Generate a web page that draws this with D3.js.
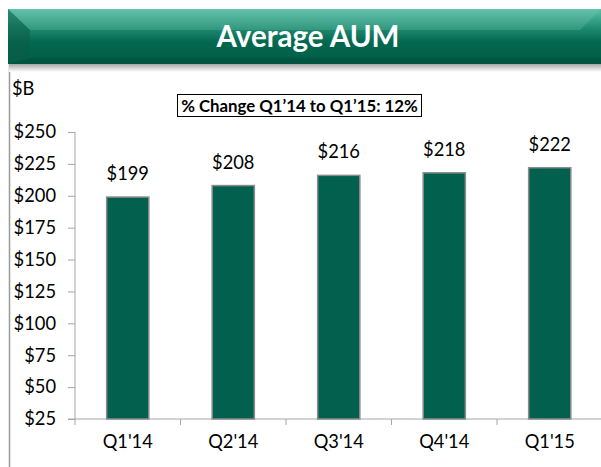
<!DOCTYPE html>
<html><head><meta charset="utf-8">
<script src="https://cdnjs.cloudflare.com/ajax/libs/d3/7.8.5/d3.min.js"></script>
<style>html,body{margin:0;padding:0;background:#fff;}svg{display:block;}</style>
</head><body>
<script>
const categories = ["Q1'14","Q2'14","Q3'14","Q4'14","Q1'15"];
const values = [199, 208, 216, 218, 222];
const valueLabels = ["$199","$208","$216","$218","$222"];
const yTicks = [25,50,75,100,125,150,175,200,225,250];
const title = "Average AUM";
const unitLabel = "$B";
const note = "% Change Q1’14 to Q1’15: 12%";

const W = 601, H = 467;
const font = "Lato, 'Open Sans', sans-serif";
const fs = 18.3;
const svg = d3.select("body").append("svg").attr("width", W).attr("height", H);
const defs = svg.append("defs");

const g1 = defs.append("linearGradient").attr("id","ban").attr("x1",0).attr("y1",0).attr("x2",0).attr("y2",1);
g1.append("stop").attr("offset","0%").attr("stop-color","#5cc0a8");
g1.append("stop").attr("offset","35%").attr("stop-color","#1f8a70");
g1.append("stop").attr("offset","60%").attr("stop-color","#03684f");
g1.append("stop").attr("offset","100%").attr("stop-color","#005c47");
const g2 = defs.append("linearGradient").attr("id","shad").attr("x1",0).attr("y1",0).attr("x2",0).attr("y2",1);
g2.append("stop").attr("offset","0%").attr("stop-color","#9a9a9a");
g2.append("stop").attr("offset","100%").attr("stop-color","#ffffff");

svg.append("line").attr("x1",9.5).attr("x2",9.5).attr("y1",62).attr("y2",H).attr("stroke","#9a9a9a").attr("stroke-width",1.5);
svg.append("rect").attr("x",9).attr("y",63).attr("width",W-9).attr("height",9).attr("fill","url(#shad)");
svg.append("rect").attr("x",8).attr("y",9).attr("width",W-8).attr("height",55).attr("fill","url(#ban)");
svg.append("path").attr("d","M8,9 L30,30 L30,58 L8,64 Z").attr("fill","#0b5c47").attr("opacity",0.55);
svg.append("path").attr("d","M8,9 L30,30 L580,30 L601,9 Z").attr("fill","#7ccbb8").attr("opacity",0.25);
svg.append("path").attr("d","M8,64 L30,58 L601,58 L601,64 Z").attr("fill","#004b39").attr("opacity",0.5);
svg.append("text").attr("x",308).attr("y",47).attr("text-anchor","middle")
  .attr("font-family",font).attr("font-weight","bold").attr("font-size",29.5).attr("fill","#fff").text(title);

svg.append("text").attr("x",12).attr("y",95).attr("font-family",font).attr("font-size",fs).attr("fill","#000").text(unitLabel);

svg.append("rect").attr("x",177.5).attr("y",94.5).attr("width",244).attr("height",22).attr("fill","#fff").attr("stroke","#000").attr("stroke-width",1);
svg.append("text").attr("x",299.5).attr("y",111.5).attr("text-anchor","middle").attr("font-family",font).attr("font-weight","bold").attr("font-size",16.8).attr("fill","#000").text(note);

const x = d3.scaleBand().domain(categories).range([75, 602.5]).padding(0);
const y = d3.scaleLinear().domain([25, 250]).range([419, 132]);

const ya = svg.append("g").attr("transform","translate(75,0)")
  .call(d3.axisLeft(y).tickValues(yTicks).tickSize(7).tickPadding(12).tickFormat(d => "$" + d));
ya.select(".domain").attr("stroke","#a6a6a6").attr("d","M0,132V419");
ya.selectAll(".tick line").attr("stroke","#a6a6a6");
ya.selectAll(".tick text").attr("font-family",font).attr("font-size",fs).attr("fill","#000");

const xa = svg.append("g").attr("transform","translate(0,419)")
  .call(d3.axisBottom(x).tickSize(0).tickPadding(13));
xa.select(".domain").attr("stroke","#a6a6a6").attr("d","M68,0H602");
xa.selectAll(".tick text").attr("font-family",font).attr("font-size",fs).attr("fill","#000").attr("dy","0.9em");
svg.append("g").selectAll("line").data(categories).join("line")
  .attr("x1", d => x(d)).attr("x2", d => x(d)).attr("y1",419).attr("y2",425).attr("stroke","#a6a6a6");

const bw = x.bandwidth()*0.4;
svg.append("g").selectAll("rect").data(values).join("rect")
  .attr("x",(d,i)=>x(categories[i]) + x.bandwidth()/2 - bw/2)
  .attr("y",d=>y(d)).attr("width",bw).attr("height",d=>y(25)-y(d))
  .attr("fill","#02604e").attr("stroke","#8c8c8c").attr("stroke-width",1.5);

svg.append("g").selectAll("text").data(values).join("text")
  .attr("x",(d,i)=>x(categories[i]) + x.bandwidth()/2)
  .attr("y",d=>y(d)-17).attr("text-anchor","middle")
  .attr("font-family",font).attr("font-size",fs).attr("fill","#000")
  .text((d,i)=>valueLabels[i]);
</script>
</body></html>
